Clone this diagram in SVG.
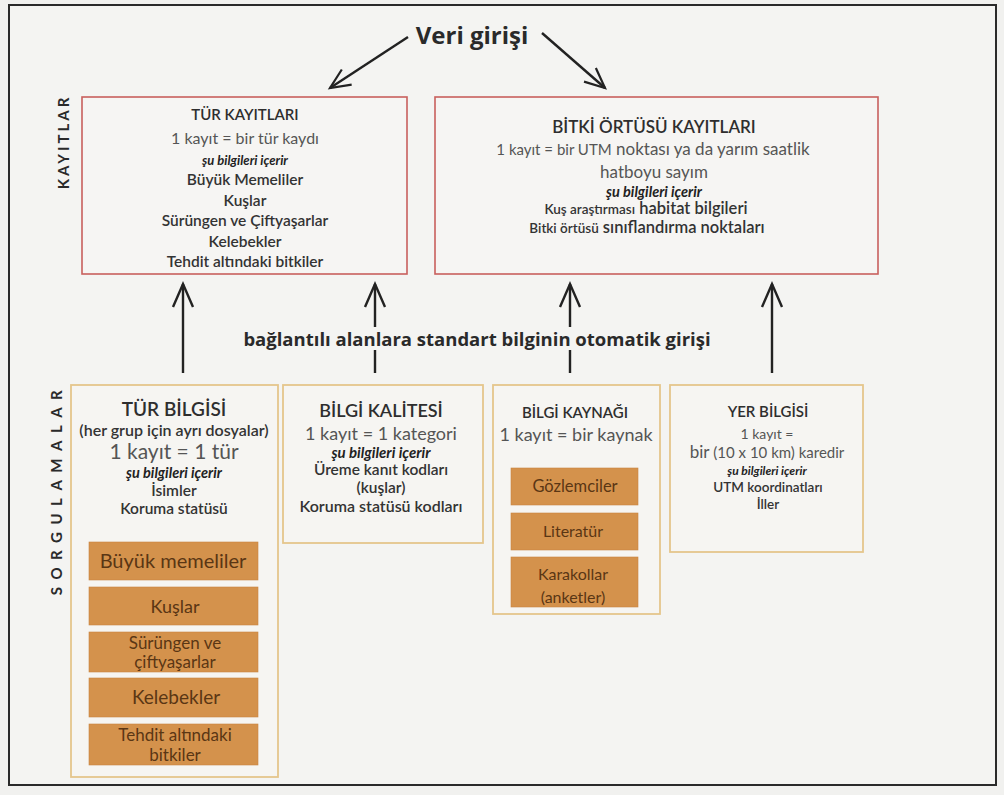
<svg xmlns="http://www.w3.org/2000/svg" width="1004" height="795" viewBox="0 0 1004 795">
<defs>
<style>
text{font-family:Lato,"Open Sans","Liberation Sans",sans-serif;text-anchor:middle;fill:#333}
.h{font-size:15px;font-weight:600;fill:#2e2e2e}
.g{font-size:17px;font-weight:400;fill:#555}
.i{font-size:13px;font-weight:700;font-style:italic;fill:#222}
.b{font-size:15.5px;font-weight:600;fill:#333}
.o{font-size:18px;font-weight:400;fill:#5a3614}
.os{font-size:17px;font-weight:400;fill:#5a3614}
.side{font-size:15px;font-weight:700;fill:#2a2a2a;text-anchor:middle}
.os-b{font-family:"Open Sans",Lato,sans-serif;font-weight:700;fill:#2a2a2a}
.red{fill:#f6f5f3;stroke:#c9605d;stroke-width:1.6}
.yel{fill:#f6f5f2;stroke:#e5c68c;stroke-width:1.8}
.or{fill:#d4924c;stroke:#c88440;stroke-width:0.6}
.arr{fill:none;stroke:#222;stroke-width:2.4}
</style>
<marker id="ah" viewBox="-24 -12 28 24" refX="0" refY="0" markerWidth="28" markerHeight="24" markerUnits="userSpaceOnUse" orient="auto">
<path d="M-23,-10 L0,0 L-23,10" fill="none" stroke="#222" stroke-width="2.4"/>
</marker>
<marker id="ah2" viewBox="-24 -12 28 24" refX="0" refY="0" markerWidth="28" markerHeight="24" markerUnits="userSpaceOnUse" orient="auto">
<path d="M-20,-9 L0,0 L-20,9" fill="none" stroke="#222" stroke-width="2.2"/>
</marker>
</defs>
<rect x="0" y="0" width="1004" height="795" fill="#f1f1ef"/>
<rect x="9" y="5" width="987" height="780" fill="#f4f4f2" stroke="#2a2a2a" stroke-width="2"/>

<text class="os-b" x="472" y="44" style="font-size:24px">Veri girişi</text>
<text class="side" transform="translate(64,142) rotate(-90)" dy="5" letter-spacing="3">KAYITLAR</text>
<text class="side" transform="translate(57,489) rotate(-90)" dy="5" letter-spacing="7.5">SORGULAMALAR</text>
<text class="os-b" x="477" y="346" style="font-size:18.5px">bağlantılı alanlara standart bilginin otomatik girişi</text>

<g id="connectors">
<path class="arr" d="M408,37 L330,88" marker-end="url(#ah2)"/>
<path class="arr" d="M542,33 L605,88" marker-end="url(#ah2)"/>
<path class="arr" d="M183,373 L183,284" marker-end="url(#ah)"/>
<path class="arr" d="M375,373 L375,350"/>
<path class="arr" d="M375,327 L375,284" marker-end="url(#ah)"/>
<path class="arr" d="M570,373 L570,350"/>
<path class="arr" d="M570,327 L570,284" marker-end="url(#ah)"/>
<path class="arr" d="M772,373 L772,284" marker-end="url(#ah)"/>
</g>

<g id="tur-kayitlari">
<rect class="red" x="82" y="97" width="325" height="177"/>
<text class="h" x="245" y="120" style="font-size:15px">TÜR KAYITLARI</text>
<text class="g" x="245" y="144" style="font-size:16px">1 kayıt = bir tür kaydı</text>
<text class="i" x="245" y="165">şu bilgileri içerir</text>
<text class="b" x="245" y="185">Büyük Memeliler</text>
<text class="b" x="245" y="206">Kuşlar</text>
<text class="b" x="245" y="226">Sürüngen ve Çiftyaşarlar</text>
<text class="b" x="245" y="247">Kelebekler</text>
<text class="b" x="245" y="267">Tehdit altındaki bitkiler</text>
</g>

<g id="bitki-ortusu-kayitlari">
<rect class="red" x="435" y="97" width="443" height="177"/>
<text class="h" x="654" y="133" style="font-size:17px">BİTKİ ÖRTÜSÜ KAYITLARI</text>
<text class="g" x="653" y="155"><tspan style="font-size:15px">1 kayıt = bir UTM</tspan> noktası ya da yarım saatlik</text>
<text class="g" x="654" y="178">hatboyu sayım</text>
<text class="i" x="654" y="197" style="font-size:14.5px">şu bilgileri içerir</text>
<text class="b" x="646" y="214" style="font-size:16.5px"><tspan style="font-size:13.5px">Kuş araştırması</tspan> habitat bilgileri</text>
<text class="b" x="647" y="233" style="font-size:16.5px"><tspan style="font-size:13.5px">Bitki örtüsü</tspan> sınıflandırma noktaları</text>
</g>

<g id="tur-bilgisi">
<rect class="yel" x="71" y="385" width="207" height="392"/>
<text class="h" x="174" y="416" style="font-size:19px">TÜR BİLGİSİ</text>
<text class="b" x="174" y="436" style="font-size:16px">(her grup için ayrı dosyalar)</text>
<text class="g" x="174" y="459" style="font-size:21px">1 kayıt = 1 tür</text>
<text class="i" x="174" y="478" style="font-size:14.5px">şu bilgileri içerir</text>
<text class="b" x="174" y="496" style="font-size:15.5px">İsimler</text>
<text class="b" x="174" y="514" style="font-size:15.5px">Koruma statüsü</text>
<rect class="or" x="89" y="542" width="169" height="38"/>
<text class="o" x="173" y="568" style="font-size:20px">Büyük memeliler</text>
<rect class="or" x="89" y="587" width="169" height="38"/>
<text class="o" x="175" y="613">Kuşlar</text>
<rect class="or" x="89" y="632" width="169" height="40"/>
<text class="os" x="175" y="649">Sürüngen ve</text>
<text class="os" x="175" y="668">çiftyaşarlar</text>
<rect class="or" x="89" y="678" width="169" height="39"/>
<text class="o" x="176" y="704" style="font-size:19px">Kelebekler</text>
<rect class="or" x="89" y="724" width="169" height="41"/>
<text class="os" x="175" y="741">Tehdit altındaki</text>
<text class="os" x="175" y="761">bitkiler</text>
</g>

<g id="bilgi-kalitesi">
<rect class="yel" x="283" y="385" width="200" height="158"/>
<text class="h" x="381" y="417" style="font-size:18px">BİLGİ KALİTESİ</text>
<text class="g" x="381" y="440" style="font-size:18px">1 kayıt = 1 kategori</text>
<text class="i" x="381" y="458" style="font-size:15px">şu bilgileri içerir</text>
<text class="b" x="381" y="475" style="font-size:15.5px">Üreme kanıt kodları</text>
<text class="b" x="381" y="493" style="font-size:15.5px">(kuşlar)</text>
<text class="b" x="381" y="512" style="font-size:16px">Koruma statüsü kodları</text>
</g>

<g id="bilgi-kaynagi">
<rect class="yel" x="493" y="385" width="167" height="229"/>
<text class="h" x="575" y="418" style="font-size:15px">BİLGİ KAYNAĞI</text>
<text class="g" x="576" y="441" style="font-size:18px">1 kayıt = bir kaynak</text>
<rect class="or" x="511" y="468" width="127" height="37"/>
<text class="os" x="575" y="492" style="font-size:16.5px">Gözlemciler</text>
<rect class="or" x="511" y="513" width="127" height="37"/>
<text class="os" x="573" y="537" style="font-size:16px">Literatür</text>
<rect class="or" x="511" y="557" width="127" height="50"/>
<text class="os" x="573" y="580" style="font-size:16px">Karakollar</text>
<text class="os" x="573" y="603" style="font-size:16px">(anketler)</text>
</g>

<g id="yer-bilgisi">
<rect class="yel" x="670" y="385" width="193" height="167"/>
<text class="h" x="768" y="417" style="font-size:15px">YER BİLGİSİ</text>
<text class="g" x="767" y="439" style="font-size:14px">1 kayıt =</text>
<text class="g" x="767" y="458" style="font-size:15px"><tspan style="font-size:17px">bir</tspan> (10 x 10 km) karedir</text>
<text class="i" x="767" y="475" style="font-size:12px">şu bilgileri içerir</text>
<text class="b" x="768" y="492" style="font-size:13.5px">UTM koordinatları</text>
<text class="b" x="768" y="509" style="font-size:13.5px">İller</text>
</g>
</svg>
